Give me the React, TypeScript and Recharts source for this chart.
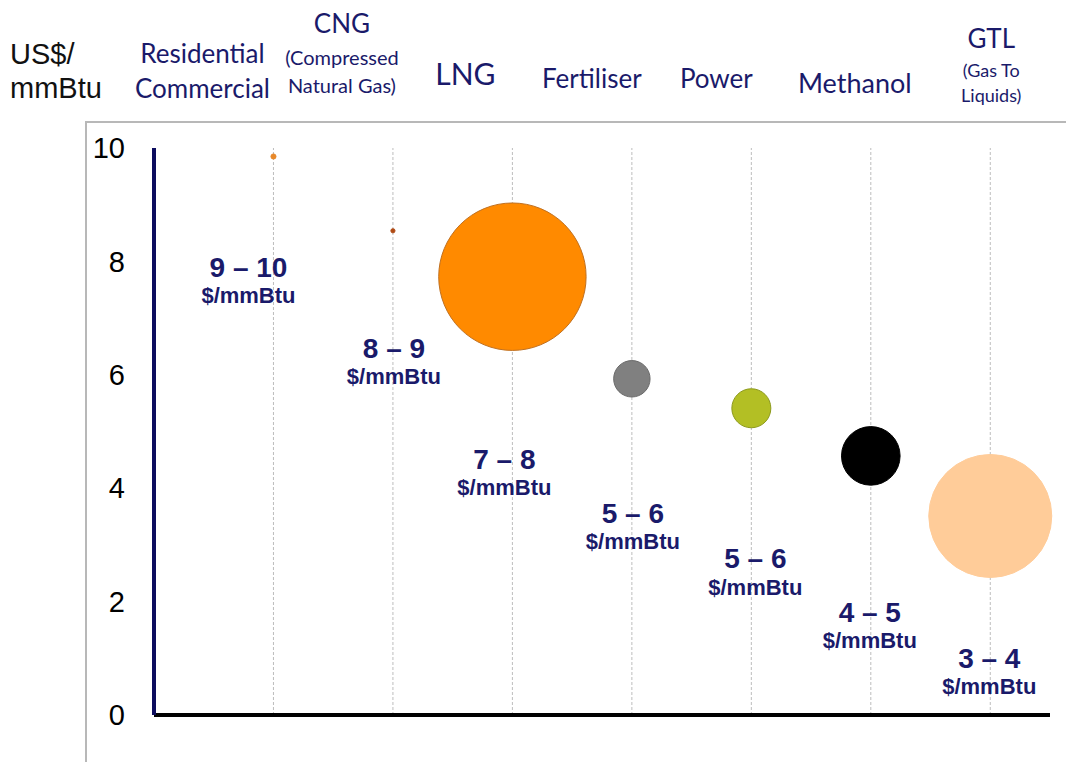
import React from 'react'
import {
  ScatterChart,
  Scatter,
  XAxis,
  YAxis,
  ZAxis,
  ReferenceLine,
  Cell,
} from 'recharts'

// gas uses along the x axis, one slot each
const categoryLines = [
  ['Residential', 'Commercial'],
  ['CNG', '(Compressed', 'Natural Gas)'],
  ['LNG'],
  ['Fertiliser'],
  ['Power'],
  ['Methanol'],
  ['GTL', '(Gas To', 'Liquids)'],
]
const slots = [1, 2, 3, 4, 5, 6, 7]

// netback price, US$/mmBtu (bubble centre)
const prices = [9.85, 8.54, 7.73, 5.93, 5.41, 4.57, 3.51]
// relative bubble area (LNG = 100)
const bubbleSizes = [0.12, 0.08, 100, 6.1, 7.0, 15.8, 69.6]
const priceRanges = ['9 – 10', '8 – 9', '7 – 8', '5 – 6', '5 – 6', '4 – 5', '3 – 4']
const priceUnit = '$/mmBtu'
const yTicks = [0, 2, 4, 6, 8, 10]

const data = slots.map((slot, i) => ({
  idx: i,
  slot,
  price: prices[i],
  size: bubbleSizes[i],
}))

const NAVY = '#1a1a6a'

const fills = ['#e8892b', '#b04a14', '#ff8a00', '#808080', '#b3bf24', '#000000', '#ffcc99']
const strokes = ['#e8892b', '#b04a14', '#c07020', '#6a6a6a', '#8d9a1c', '#000000', '#ffcc99']

// where each category heading sits (offset from its slot, baselines)
const headLayout = [
  { dx: -71, lines: [{ y: 63, size: 26 }, { y: 98, size: 26 }] },
  { dx: -51, lines: [{ y: 33, size: 26 }, { y: 65, size: 20 }, { y: 93, size: 20 }] },
  { dx: -47, lines: [{ y: 85, size: 30 }] },
  { dx: -40, lines: [{ y: 88, size: 26 }] },
  { dx: -35, lines: [{ y: 88, size: 26 }] },
  { dx: -16, lines: [{ y: 93, size: 27 }] },
  { dx: 1, lines: [{ y: 48, size: 26 }, { y: 77, size: 18 }, { y: 102, size: 18 }] },
]

// price label offset from bubble centre (first line baseline)
const labelOffsets = [
  { dx: -25, dy: 120 },
  { dx: 1, dy: 127 },
  { dx: -8, dy: 192 },
  { dx: 1, dy: 144 },
  { dx: 4, dy: 160 },
  { dx: -1, dy: 166 },
  { dx: -1, dy: 152 },
]

const TopTick = (props: any) => {
  const { x, payload } = props
  const i = Math.round(payload.value) - 1
  const lay = headLayout[i]
  if (!lay) return null
  return (
    <g>
      {categoryLines[i].map((line, j) => (
        <text
          key={j}
          x={x + lay.dx}
          y={lay.lines[j].y}
          textAnchor="middle"
          fontSize={lay.lines[j].size}
          fontFamily="Lato"
          fill={NAVY}
        >
          {line}
        </text>
      ))}
    </g>
  )
}

const PriceLabel = (props: any) => {
  const { cx, cy, payload } = props
  const off = labelOffsets[payload.idx]
  const x = cx + off.dx
  const y = cy + off.dy
  return (
    <g fontFamily="Liberation Sans, Arial" fontWeight="bold" fill={NAVY} textAnchor="middle">
      <text x={x} y={y} fontSize={28}>
        {priceRanges[payload.idx]}
      </text>
      <text x={x} y={y + 26.5} fontSize={22}>
        {priceUnit}
      </text>
    </g>
  )
}

const UnitLabel = () => (
  <g fontFamily="Liberation Sans, Arial" fontSize={29} fill="#111">
    <text x={10} y={64}>US$/</text>
    <text x={10} y={98}>mmBtu</text>
  </g>
)

const NoTick = () => <g />

export default function App() {
  return (
    <div style={{ position: 'absolute', left: 0, top: 0, width: 1066, height: 762, background: '#fff' }}>
      <div
        style={{
          position: 'absolute',
          left: 85,
          top: 121,
          width: 981,
          height: 641,
          borderLeft: '2px solid #b8b8b8',
          borderTop: '2px solid #b8b8b8',
        }}
      />
      <div style={{ position: 'absolute', left: 0, top: 0 }}>
        <ScatterChart width={1066} height={762} margin={{ top: 0, right: 16, bottom: 0, left: 0 }}>
          <XAxis
            xAxisId="top"
            orientation="top"
            type="number"
            dataKey="slot"
            domain={[0, 7.5]}
            ticks={slots}
            interval={0}
            height={148}
            axisLine={false}
            tickLine={false}
            tick={<TopTick />}
          />
          <XAxis
            type="number"
            dataKey="slot"
            domain={[0, 7.5]}
            ticks={slots}
            interval={0}
            height={47}
            axisLine={{ stroke: '#000', strokeWidth: 4 }}
            tickLine={false}
            tick={<NoTick />}
          />
          <YAxis
            type="number"
            dataKey="price"
            domain={[0, 10]}
            ticks={yTicks}
            interval={0}
            width={154}
            axisLine={{ stroke: '#0d0d5e', strokeWidth: 4 }}
            tickLine={false}
            tickSize={0}
            tickMargin={29}
            tick={{ fill: '#000', fontSize: 29, fontFamily: 'Liberation Sans, Arial' }}
            label={<UnitLabel />}
          />
          <ZAxis type="number" dataKey="size" domain={[0, 100]} range={[0, 17065]} />
          {slots.map((s) => (
            <ReferenceLine key={s} x={s} stroke="#bdbdbd" strokeDasharray="3 2" />
          ))}
          <Scatter data={data} shape="circle" isAnimationActive={false}>
            {data.map((d) => (
              <Cell key={d.idx} fill={fills[d.idx]} stroke={strokes[d.idx]} strokeWidth={1} />
            ))}
          </Scatter>
          <Scatter
            data={data}
            xAxisId="top"
            shape={<PriceLabel />}
            isAnimationActive={false}
            legendType="none"
          />
        </ScatterChart>
      </div>
    </div>
  )
}
